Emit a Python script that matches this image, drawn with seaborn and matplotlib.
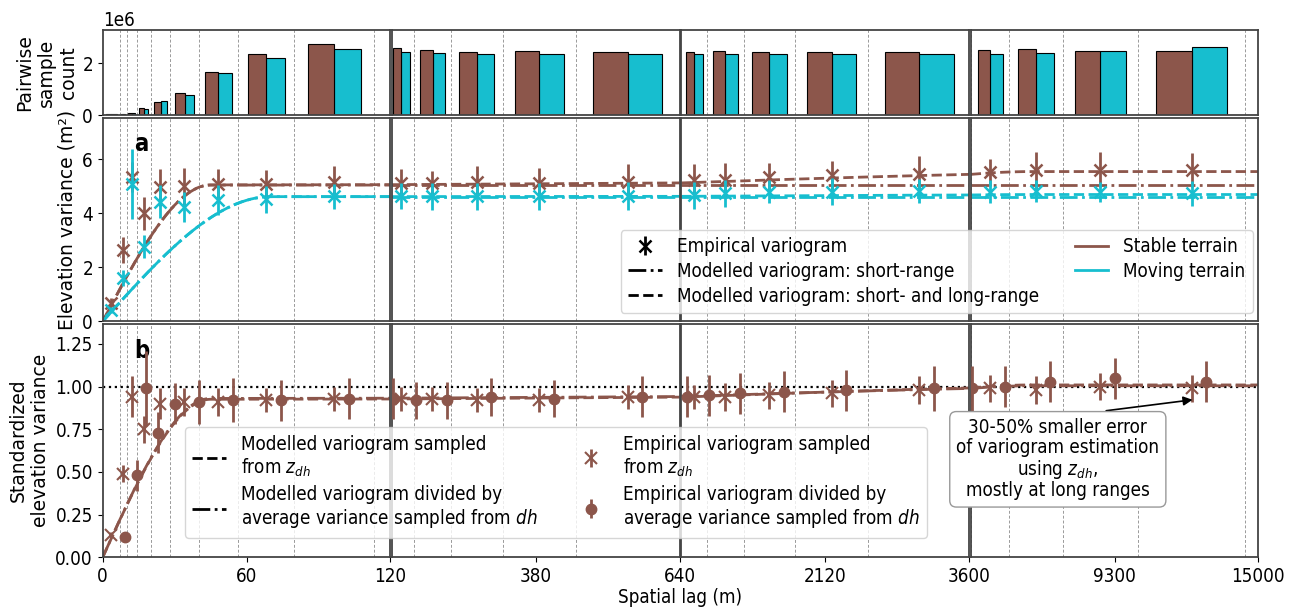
import numpy as np
import pandas as pd
import matplotlib
matplotlib.use("Agg")
import matplotlib.pyplot as plt
import seaborn as sns

# ---------------- data ----------------
bin_edges = [0, 7.07, 10, 14.14, 20, 28.28, 40, 56.57, 80, 113.1, 160, 226.3, 320,
             452.5, 640, 905, 1280, 1810, 2560, 3620, 5120, 7241, 10240, 14482]
lags = [3.5, 8.5, 12.1, 17.1, 24.1, 34.1, 48.3, 68.3, 96.6, 136.6, 193, 273, 386,
        546, 772, 1093, 1545, 2185, 3090, 4370, 6180, 8740, 12360]

# pairwise sample count (millions)
count_stable = [0.04, 0.07, 0.09, 0.27, 0.50, 0.88, 1.68, 2.35, 2.75, 2.57, 2.51, 2.44,
                2.48, 2.42, 2.44, 2.47, 2.44, 2.44, 2.44, 2.51, 2.53, 2.48, 2.47]
count_moving = [0.04, 0.06, 0.08, 0.25, 0.55, 0.77, 1.62, 2.20, 2.53, 2.44, 2.38, 2.35,
                2.35, 2.34, 2.34, 2.35, 2.35, 2.34, 2.34, 2.35, 2.41, 2.48, 2.63]

# panel a: empirical variograms (m^2)
var_stable = [0.70, 2.65, 5.35, 4.00, 4.96, 5.00, 5.10, 5.08, 5.16, 5.13, 5.13, 5.17,
              5.13, 5.17, 5.23, 5.25, 5.35, 5.41, 5.45, 5.53, 5.59, 5.62, 5.62]
err_stable = [0.15, 0.49, 0.55, 0.60, 0.70, 0.67, 0.55, 0.53, 0.60, 0.50, 0.45, 0.57,
              0.56, 0.65, 0.60, 0.60, 0.50, 0.53, 0.66, 0.50, 0.68, 0.65, 0.63]
var_moving = [0.42, 1.61, 5.10, 2.77, 4.43, 4.24, 4.49, 4.52, 4.64, 4.64, 4.64, 4.64,
              4.64, 4.64, 4.67, 4.74, 4.80, 4.80, 4.82, 4.80, 4.83, 4.80, 4.74]
err_moving = [0.12, 0.30, 1.30, 0.43, 0.61, 0.55, 0.55, 0.50, 0.46, 0.48, 0.50, 0.50,
              0.50, 0.52, 0.50, 0.50, 0.43, 0.50, 0.45, 0.43, 0.40, 0.37, 0.47]

# panel a: model parameters (spherical models)
stable_short_sill, stable_short_range = 5.05, 45
stable_long_sill, stable_long_range = 0.50, 6000
moving_short_sill, moving_short_range = 4.62, 70
moving_long_sill, moving_long_range = 0.08, 6000

# panel b: standardized empirical variograms
std_zdh = [0.13, 0.49, 0.94, 0.75, 0.90, 0.91, 0.91, 0.92, 0.93, 0.93, 0.93, 0.92,
           0.92, 0.94, 0.94, 0.94, 0.95, 0.96, 0.98, 0.99, 0.98, 1.00, 0.99]
err_zdh = [0.02, 0.05, 0.12, 0.08, 0.09, 0.08, 0.08, 0.07, 0.07, 0.07, 0.07, 0.07,
           0.07, 0.07, 0.07, 0.08, 0.08, 0.08, 0.08, 0.08, 0.08, 0.08, 0.08]
std_dh = [0.12, 0.48, 0.99, 0.73, 0.90, 0.91, 0.92, 0.92, 0.93, 0.92, 0.92, 0.94,
          0.93, 0.94, 0.95, 0.96, 0.97, 0.98, 0.99, 1.00, 1.03, 1.05, 1.03]
err_dh = [0.01, 0.09, 0.22, 0.12, 0.12, 0.13, 0.13, 0.12, 0.12, 0.11, 0.11, 0.11,
          0.11, 0.12, 0.12, 0.12, 0.12, 0.12, 0.13, 0.12, 0.12, 0.12, 0.12]
zdh_short_sill, zdh_long_sill = 0.925, 0.085
dh_short_sill, dh_long_sill = 0.93, 0.075
std_short_range, std_long_range = 45, 6000

col_limits = [(0, 120), (120, 640), (640, 3600), (3600, 15000)]
col_ticks = [[0, 60, 120], [380, 640], [2120, 3600], [9300, 15000]]

BROWN = "#8c564b"
CYAN = "#17becf"
FS = 13.5

# ---------------- style ----------------
plt.rcParams.update({
    "font.family": ["DejaVu Sans Condensed", "DejaVu Sans"],
    "font.stretch": "condensed",
    "font.size": FS,
    "axes.edgecolor": "#444444",
    "axes.linewidth": 1.3,
    "xtick.labelsize": FS,
    "ytick.labelsize": FS,
    "legend.fontsize": FS,
})


def sph(h, r):
    x = np.asarray(h) / r
    return np.where(x < 1, 1.5 * x - 0.5 * x ** 3, 1.0)


df_hist = pd.DataFrame({
    "lag": lags * 2,
    "count": [v * 1e6 for v in count_stable + count_moving],
    "terrain": ["Stable terrain"] * len(lags) + ["Moving terrain"] * len(lags),
})

fig = plt.figure(figsize=(13, 6.11), dpi=100)
gs = fig.add_gridspec(3, 4, height_ratios=[86, 205, 235], left=0.079, right=0.968,
                      top=0.951, bottom=0.088, wspace=0.006, hspace=0.012)
axes = np.empty((3, 4), dtype=object)
for r in range(3):
    for c in range(4):
        axes[r, c] = fig.add_subplot(gs[r, c], sharey=axes[r, 0] if c > 0 else None)

for c, (lo, hi) in enumerate(col_limits):
    h = np.linspace(lo, hi, 600)
    dodge = 0.05 * (hi - lo)

    # --- histogram row ---
    ax = axes[0, c]
    sns.histplot(data=df_hist, x="lag", weights="count", hue="terrain",
                 hue_order=["Stable terrain", "Moving terrain"],
                 palette={"Stable terrain": BROWN, "Moving terrain": CYAN},
                 bins=bin_edges, multiple="dodge", shrink=2 / 3, alpha=1,
                 edgecolor="black", linewidth=0.8, legend=False, ax=ax)

    # --- panel a ---
    ax = axes[1, c]
    sns.lineplot(x=h, y=stable_short_sill * sph(h, stable_short_range),
                 color=BROWN, lw=2, linestyle="-.", ax=ax, zorder=2)
    sns.lineplot(x=h, y=stable_short_sill * sph(h, stable_short_range)
                 + stable_long_sill * sph(h, stable_long_range),
                 color=BROWN, lw=2, linestyle="--", ax=ax, zorder=2)
    sns.lineplot(x=h, y=moving_short_sill * sph(h, moving_short_range),
                 color=CYAN, lw=2, linestyle="-.", ax=ax, zorder=2)
    sns.lineplot(x=h, y=moving_short_sill * sph(h, moving_short_range)
                 + moving_long_sill * sph(h, moving_long_range),
                 color=CYAN, lw=2, linestyle="--", ax=ax, zorder=2)
    ax.errorbar(lags, var_stable, yerr=err_stable, fmt="x", color=BROWN, ms=9,
                mew=1.8, elinewidth=2, capsize=0, zorder=4)
    ax.errorbar(lags, var_moving, yerr=err_moving, fmt="x", color=CYAN, ms=9,
                mew=1.8, elinewidth=2, capsize=0, zorder=5)

    # --- panel b ---
    ax = axes[2, c]
    ax.axhline(1.0, color="black", ls=":", lw=1.6, zorder=1)
    sns.lineplot(x=h, y=zdh_short_sill * sph(h, std_short_range)
                 + zdh_long_sill * sph(h, std_long_range),
                 color=BROWN, lw=2, linestyle="--", ax=ax, zorder=2)
    sns.lineplot(x=h, y=dh_short_sill * sph(h, std_short_range)
                 + dh_long_sill * sph(h, std_long_range),
                 color=BROWN, lw=2, linestyle="-.", ax=ax, zorder=2)
    ax.errorbar(lags, std_zdh, yerr=err_zdh, fmt="x", color=BROWN, ms=9,
                mew=1.5, elinewidth=2, capsize=0, zorder=4)
    ax.errorbar(np.array(lags) + dodge, std_dh, yerr=err_dh, fmt="o", color=BROWN,
                ms=7.5, elinewidth=2, capsize=0, zorder=4)

    for r in range(3):
        ax = axes[r, c]
        for e in bin_edges:
            if lo < e < hi:
                ax.axvline(e, color="#9a9a9a", ls=(0, (3, 2)), lw=0.7, zorder=0)
        ax.set_xlim(lo, hi)
        ax.set_xlabel("")
        ax.set_ylabel("")
        ax.set_xticks(col_ticks[c])
        if r < 2:
            ax.tick_params(axis="x", bottom=False, labelbottom=False)
        else:
            ax.set_xticklabels([str(t) for t in col_ticks[c]])
        if c > 0:
            ax.tick_params(axis="y", left=False, labelleft=False)

axes[0, 0].set_ylim(0, 3.28e6)
axes[0, 0].set_yticks([0, 2e6])
axes[1, 0].set_ylim(0, 7.55)
axes[1, 0].set_yticks([0, 2, 4, 6])
axes[2, 0].set_ylim(0, 1.37)
axes[2, 0].set_yticks([0, 0.25, 0.5, 0.75, 1.0, 1.25])
axes[2, 0].yaxis.set_major_formatter(matplotlib.ticker.FormatStrFormatter("%.2f"))

ylab_kw = dict(fontfamily="DejaVu Sans", fontstretch="normal", fontsize=13.5)
axes[0, 0].set_ylabel("Pairwise\nsample\ncount", labelpad=3, **ylab_kw)
axes[1, 0].set_ylabel("Elevation variance (m²)", labelpad=4, **ylab_kw)
axes[2, 0].set_ylabel("Standardized\nelevation variance", labelpad=4, **ylab_kw)

axes[1, 0].text(0.11, 0.93, "a", transform=axes[1, 0].transAxes, fontsize=17,
                fontweight="bold", va="top")
axes[2, 0].text(0.11, 0.935, "b", transform=axes[2, 0].transAxes, fontsize=17,
                fontweight="bold", va="top")

fig.text(0.523, 0.006, "Spatial lag (m)", ha="center", va="bottom", fontsize=FS)

# ---- legend a ----
ax0 = axes[1, 0]
h_emp = ax0.errorbar([np.nan], [np.nan], yerr=[np.nan], fmt="x", color="black",
                     ms=9, mew=1.8, elinewidth=2, capsize=0)
h_short = matplotlib.lines.Line2D([], [], color="black", lw=2, ls="-.")
h_long = matplotlib.lines.Line2D([], [], color="black", lw=2, ls="--")
h_st = matplotlib.lines.Line2D([], [], color=BROWN, lw=2)
h_mv = matplotlib.lines.Line2D([], [], color=CYAN, lw=2)
fig.legend([h_emp, h_short, h_long, h_st, h_mv],
           ["Empirical variogram", "Modelled variogram: short-range",
            "Modelled variogram: short- and long-range", "Stable terrain",
            "Moving terrain"],
           ncol=2, loc="lower right", bbox_to_anchor=(0.9638, 0.4877),
           borderaxespad=0, columnspacing=1.9, handlelength=1.8,
           handletextpad=0.8, borderpad=0.4, labelspacing=0.3)

# ---- legend b ----
axb = axes[2, 0]
h_bzdh = axb.errorbar([np.nan], [np.nan], yerr=[np.nan], fmt="x", color=BROWN,
                      ms=9, mew=1.5, elinewidth=2, capsize=0)
h_bdh = axb.errorbar([np.nan], [np.nan], yerr=[np.nan], fmt="o", color=BROWN,
                     ms=7.5, elinewidth=2, capsize=0)
h_bd = matplotlib.lines.Line2D([], [], color="black", lw=2, ls="--")
h_bdd = matplotlib.lines.Line2D([], [], color="black", lw=2, ls="-.")
fig.legend([h_bd, h_bdd, h_bzdh, h_bdh],
           ["Modelled variogram sampled\nfrom $z_{dh}$",
            "Modelled variogram divided by\naverage variance sampled from $dh$",
            "Empirical variogram sampled\nfrom $z_{dh}$",
            "Empirical variogram divided by\naverage variance sampled from $dh$"],
           ncol=2, loc="lower left", bbox_to_anchor=(0.1423, 0.1195),
           borderaxespad=0, columnspacing=1.9, handlelength=1.8,
           handletextpad=0.8, borderpad=0.4, labelspacing=0.3)

# ---- annotation ----
axes[2, 3].annotate("30-50% smaller error\nof variogram estimation\nusing $z_{dh}$,\nmostly at long ranges",
                    xy=(12500, 0.925), xytext=(7050, 0.574), textcoords="data",
                    ha="center", va="center", fontsize=FS, multialignment="center",
                    linespacing=1.05,
                    bbox=dict(boxstyle="round,pad=0.35", fc="white", ec="#999999"),
                    arrowprops=dict(arrowstyle="-|>", color="black", lw=1.2,
                                    relpos=(0.45, 1.0)),
                    zorder=10, annotation_clip=False)

fig.savefig("out.png", dpi=100)
